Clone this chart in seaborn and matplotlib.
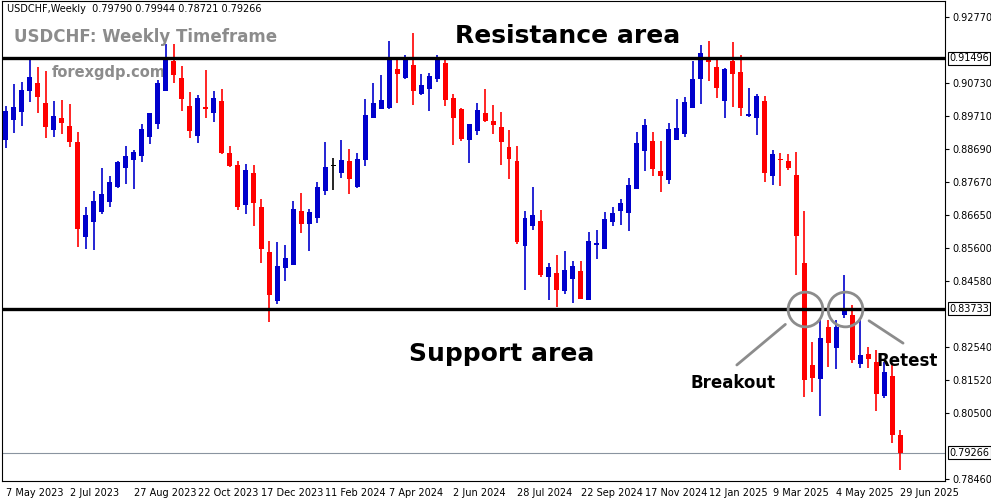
import numpy as np
import pandas as pd
import seaborn as sns
import matplotlib
matplotlib.use("Agg")
import matplotlib.pyplot as plt

opens = [0.8896,0.8958,0.8983,0.9048,0.9073,0.9011,0.8927,0.8964,0.8940,0.8890,
         0.8595,0.8642,0.8673,0.8704,0.8750,0.8809,0.8834,0.8847,0.8905,0.8946,
         0.9048,0.9141,0.9088,0.9002,0.8909,0.8998,0.8980,0.9017,0.8856,0.8819,
         0.8695,0.8794,0.8688,0.8549,0.8397,0.8499,0.8509,0.8676,0.8636,0.8654,
         0.8738,0.8816,0.8794,0.8831,0.8750,0.8834,0.8964,0.8992,0.8995,0.9116,
         0.9088,0.9129,0.9039,0.9054,0.9085,0.9135,0.9026,0.8992,0.8896,0.8924,
         0.8980,0.8955,0.8936,0.8874,0.8831,0.8567,0.8630,0.8645,0.8471,0.8484,
         0.8428,0.8465,0.8490,0.8400,0.8571,0.8558,0.8642,0.8676,0.8670,0.8744,
         0.8862,0.8893,0.8800,0.8772,0.8896,0.8915,0.8995,0.9085,0.9144,0.9122,
         0.9017,0.9141,0.9107,0.8971,0.8964,0.9017,0.8785,0.8837,0.8831,0.8788,
         0.8515,0.8199,0.8155,0.8316,0.8251,0.8354,0.8354,0.8202,0.8233,0.8208,
         0.8103,0.8165,0.7982]
highs = [0.9002,0.9070,0.9076,0.9150,0.9122,0.9110,0.9017,0.9020,0.9008,0.8921,
         0.8688,0.8738,0.8809,0.8785,0.8831,0.8877,0.8865,0.8946,0.8980,0.9082,
         0.9194,0.9194,0.9126,0.9045,0.9036,0.9113,0.9048,0.9054,0.8877,0.8831,
         0.8822,0.8819,0.8713,0.8583,0.8580,0.8571,0.8707,0.8732,0.8682,0.8766,
         0.8890,0.8840,0.8896,0.8868,0.8856,0.9023,0.9073,0.9098,0.9203,0.9150,
         0.9160,0.9228,0.9101,0.9104,0.9160,0.9147,0.9039,0.8995,0.8946,0.9011,
         0.9054,0.9005,0.8983,0.8927,0.8877,0.8676,0.8750,0.8679,0.8515,0.8540,
         0.8552,0.8521,0.8521,0.8611,0.8617,0.8673,0.8688,0.8713,0.8778,0.8921,
         0.8961,0.8921,0.8893,0.8949,0.9023,0.9029,0.9141,0.9191,0.9203,0.9150,
         0.9119,0.9200,0.9160,0.9057,0.9039,0.9032,0.8865,0.8856,0.8853,0.8859,
         0.8676,0.8270,0.8338,0.8338,0.8338,0.8478,0.8385,0.8338,0.8254,0.8245,
         0.8208,0.8202,0.7997]
lows = [0.8871,0.8918,0.8940,0.9014,0.8980,0.8902,0.8905,0.8915,0.8874,0.8564,
        0.8558,0.8555,0.8667,0.8688,0.8747,0.8760,0.8744,0.8828,0.8884,0.8930,
        0.9048,0.9073,0.8986,0.8902,0.8887,0.8964,0.8952,0.8853,0.8812,0.8679,
        0.8667,0.8630,0.8515,0.8332,0.8388,0.8459,0.8509,0.8608,0.8552,0.8639,
        0.8726,0.8741,0.8778,0.8729,0.8747,0.8816,0.8964,0.8992,0.8992,0.9011,
        0.9085,0.9005,0.9036,0.8986,0.9076,0.9002,0.8881,0.8893,0.8825,0.8912,
        0.8952,0.8915,0.8819,0.8775,0.8574,0.8431,0.8617,0.8471,0.8400,0.8378,
        0.8419,0.8391,0.8403,0.8400,0.8527,0.8558,0.8630,0.8633,0.8614,0.8744,
        0.8800,0.8785,0.8735,0.8760,0.8896,0.8905,0.8995,0.9008,0.9079,0.9026,
        0.8964,0.8998,0.8971,0.8967,0.8912,0.8766,0.8757,0.8753,0.8803,0.8478,
        0.8099,0.8115,0.8040,0.8192,0.8186,0.8344,0.8205,0.8189,0.8189,0.8056,
        0.8096,0.7957,0.7873]
closes = [0.8986,0.8998,0.9051,0.9091,0.9029,0.8936,0.8971,0.8949,0.8890,0.8620,
          0.8664,0.8707,0.8729,0.8766,0.8828,0.8847,0.8859,0.8930,0.8980,0.9073,
          0.9150,0.9098,0.9023,0.8924,0.9026,0.8992,0.9026,0.8856,0.8816,0.8688,
          0.8803,0.8701,0.8558,0.8416,0.8506,0.8530,0.8682,0.8636,0.8673,0.8750,
          0.8812,0.8816,0.8834,0.8775,0.8837,0.8974,0.9011,0.9020,0.9150,0.9101,
          0.9150,0.9048,0.9067,0.9095,0.9153,0.9020,0.8964,0.8899,0.8946,0.8989,
          0.8955,0.8943,0.8890,0.8837,0.8580,0.8654,0.8664,0.8478,0.8502,0.8431,
          0.8493,0.8506,0.8403,0.8583,0.8577,0.8651,0.8670,0.8701,0.8757,0.8887,
          0.8943,0.8806,0.8785,0.8930,0.8933,0.9014,0.9085,0.9166,0.9138,0.9057,
          0.9116,0.9101,0.8995,0.8977,0.9032,0.8794,0.8853,0.8834,0.8809,0.8598,
          0.8152,0.8158,0.8282,0.8267,0.8316,0.8372,0.8214,0.8230,0.8217,0.8109,
          0.8177,0.7982,0.7926]
date_labels = ["7 May 2023","2 Jul 2023","27 Aug 2023","22 Oct 2023","17 Dec 2023",
               "11 Feb 2024","7 Apr 2024","2 Jun 2024","28 Jul 2024","22 Sep 2024",
               "17 Nov 2024","12 Jan 2025","9 Mar 2025","4 May 2025","29 Jun 2025"]
price_ticks = [0.92770,0.90730,0.89710,0.88690,0.87670,0.86650,0.85600,
               0.84580,0.82540,0.81520,0.80500,0.78460]
resistance = 0.91496
support = 0.83733
last_price = 0.79266

df = pd.DataFrame({"open": opens, "high": highs, "low": lows, "close": closes})
df["idx"] = np.arange(len(df))
df["color"] = np.where(df.close > df.open, "#0000CC",
                       np.where(df.close < df.open, "#FF0000", "#000000"))

sns.set_style("white")
plt.rcParams['font.family'] = ['DejaVu Sans']
plt.rcParams['text.color'] = 'black'
plt.rcParams['xtick.color'] = 'black'
plt.rcParams['ytick.color'] = 'black'
fig = plt.figure(figsize=(9.91, 5.01), dpi=100)
ax = fig.add_axes([0.002, 1 - 481/501, 943/991, 480/501])

ax.vlines(df.idx, df.low, df.high, colors=df.color, lw=1.2, zorder=3)
body_bottom = np.minimum(df.open, df.close)
body_h = np.maximum(np.abs(df.close - df.open), 0.0002)
ax.bar(df.idx, body_h, bottom=body_bottom, width=0.62, color=df.color, zorder=4, linewidth=0)

ax.axhline(resistance, color="black", lw=2.4, zorder=5)
ax.axhline(support, color="black", lw=2.4, zorder=5)
sns.lineplot(x=[-1, 120], y=[last_price, last_price], ax=ax, color="#8a94a0", lw=0.8, zorder=2)

ax.set_xlim(-0.5, 117.6)
ax.set_ylim(0.7839, 0.9327)
ax.yaxis.tick_right()
ax.set_yticks(price_ticks)
ax.set_yticklabels([f"{t:.5f}" for t in price_ticks], fontsize=7)
ax.tick_params(axis="y", length=3, pad=2, direction="out", colors="black")
ax.set_xticks(np.arange(0, 113, 8))
ax.set_xticklabels(date_labels, fontsize=7, ha="left")
ax.tick_params(axis="x", length=3, pad=2, colors="black")
for s in ax.spines.values():
    s.set_color("black"); s.set_linewidth(0.8)

for val, txt in [(resistance, "0.91496"), (support, "0.83733"), (last_price, "0.79266")]:
    ax.annotate(txt, xy=(1.0, val), xycoords=("axes fraction", "data"), xytext=(3, 0),
                textcoords="offset points", va="center", ha="left", fontsize=7,
                bbox=dict(boxstyle="square,pad=0.15", fc="white", ec="black", lw=0.8),
                zorder=10, annotation_clip=False)

ax.text(0.005, 0.993, "USDCHF,Weekly  0.79790 0.79944 0.78721 0.79266", transform=ax.transAxes,
        fontsize=7, va="top", ha="left")
ax.text(0.013, 0.925, "USDCHF: Weekly Timeframe", transform=ax.transAxes, fontsize=12,
        fontweight="bold", color="#8c8c8c", va="center")
ax.text(0.053, 0.85, "forexgdp.com", transform=ax.transAxes, fontsize=10.5,
        fontweight="bold", color="#8c8c8c", va="center")
ax.text(0.6, 0.927, "Resistance area", transform=ax.transAxes, fontsize=18,
        fontweight="bold", ha="center", va="center")
ax.text(0.53, 0.265, "Support area", transform=ax.transAxes, fontsize=18,
        fontweight="bold", ha="center", va="center")
ax.text(0.775, 0.205, "Breakout", transform=ax.transAxes, fontsize=12,
        fontweight="bold", ha="center", va="center")
ax.text(0.96, 0.25, "Retest", transform=ax.transAxes, fontsize=12,
        fontweight="bold", ha="center", va="center")

ax.plot([100.1, 105.1], [support, support], "o", ms=25, mfc="none", mec="#8c8c8c", mew=2, zorder=8)
ax.annotate("", xy=(0.833, 0.33), xytext=(0.777, 0.238), xycoords="axes fraction",
            arrowprops=dict(arrowstyle="-", color="#8c8c8c", lw=2))
ax.annotate("", xy=(0.917, 0.337), xytext=(0.958, 0.284), xycoords="axes fraction",
            arrowprops=dict(arrowstyle="-", color="#8c8c8c", lw=2))

fig.savefig("out.png", dpi=100)
